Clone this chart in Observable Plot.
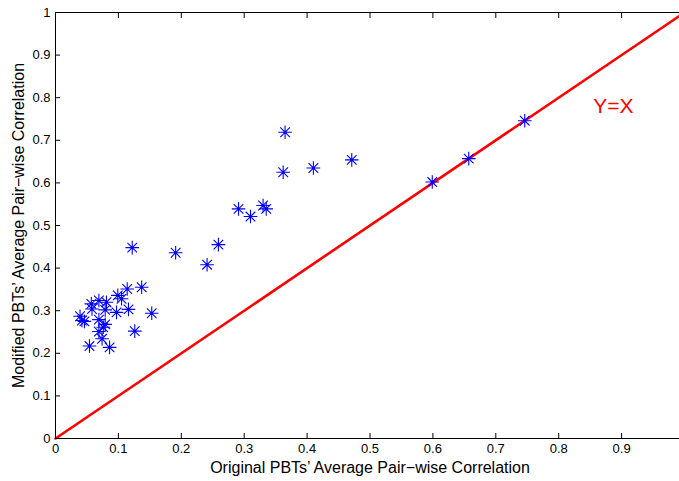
<!DOCTYPE html>
<html>
<head>
<meta charset="utf-8">
<script src="https://cdn.jsdelivr.net/npm/d3@7"></script>
<script src="https://cdn.jsdelivr.net/npm/@observablehq/plot@0.6"></script>
<style>
  html, body { margin: 0; padding: 0; background: #fff; overflow: hidden; }
  #chart svg { overflow: hidden !important; }
</style>
</head>
<body>
<div id="chart"></div>
<script>
// Data
const originalCorr = [0.746, 0.657, 0.599, 0.365, 0.362, 0.410, 0.471, 0.291, 0.310, 0.330,
  0.335, 0.259, 0.241, 0.191, 0.122, 0.137, 0.114, 0.099, 0.105, 0.153,
  0.116, 0.097, 0.126, 0.081, 0.069, 0.057, 0.058, 0.079, 0.039, 0.042,
  0.046, 0.069, 0.079, 0.076, 0.069, 0.074, 0.054, 0.086];
const modifiedCorr = [0.746, 0.657, 0.602, 0.719, 0.625, 0.635, 0.654, 0.539, 0.521, 0.547,
  0.539, 0.455, 0.408, 0.436, 0.448, 0.355, 0.351, 0.336, 0.328, 0.294,
  0.303, 0.296, 0.252, 0.320, 0.324, 0.316, 0.304, 0.302, 0.287, 0.277,
  0.275, 0.279, 0.268, 0.261, 0.251, 0.234, 0.217, 0.214];
const diagonal = [0, 1];
const xTicks = [0, 0.1, 0.2, 0.3, 0.4, 0.5, 0.6, 0.7, 0.8, 0.9];
const yTicks = [0, 0.1, 0.2, 0.3, 0.4, 0.5, 0.6, 0.7, 0.8, 0.9, 1];
const xLabel = "Original PBTs\u2019 Average Pair\u2212wise Correlation";
const yLabel = "Modified PBTs\u2019 Average Pair\u2212wise Correlation";
const lineLabel = ["Y=X"];
const lineLabelPos = {x: 0.855, y: 0.780};

const points = originalCorr.map((x, i) => ({x, y: modifiedCorr[i]}));
const diag = diagonal.map(v => ({x: v, y: v}));

// MATLAB-style 8-arm asterisk
const asterisk = {
  draw(context, size) {
    const r = Math.sqrt(size / Math.PI);
    const d = r * Math.SQRT1_2;
    context.moveTo(-r, 0); context.lineTo(r, 0);
    context.moveTo(0, -r); context.lineTo(0, r);
    context.moveTo(-d, -d); context.lineTo(d, d);
    context.moveTo(-d, d); context.lineTo(d, -d);
  }
};

const font = "'Liberation Sans', Arial, Helvetica, sans-serif";

const chart = Plot.plot({
  width: 679,
  height: 481,
  marginLeft: 55,
  marginRight: -5,
  marginTop: 12,
  marginBottom: 43,
  style: {fontFamily: font, fontSize: "13px", color: "#000", background: "#fff"},
  x: {domain: [0, 1]},
  y: {domain: [0, 1]},
  marks: [
    Plot.line(diag, {x: "x", y: "y", stroke: "#ff0000", strokeWidth: 2.6}),
    Plot.dot(points, {x: "x", y: "y", symbol: asterisk, r: 6.8, stroke: "#0000ff", strokeWidth: 1.1, fill: "none"}),
    Plot.text(lineLabel, {x: () => lineLabelPos.x, y: () => lineLabelPos.y, text: d => d, fill: "#ff0000", fontSize: 21, textAnchor: "start", lineAnchor: "middle"}),
    // frame lines
    Plot.ruleX([0], {stroke: "#000", strokeWidth: 1}),
    Plot.ruleY([0, 1], {stroke: "#000", strokeWidth: 1}),
    // inward ticks
    Plot.axisX(xTicks, {anchor: "bottom", tickSize: -5, text: null, label: null, stroke: "#000"}),
    Plot.axisX(xTicks, {anchor: "top", tickSize: -5, text: null, label: null, stroke: "#000"}),
    Plot.axisY(yTicks, {anchor: "left", tickSize: -5, text: null, label: null, stroke: "#000"}),
    // tick labels
    Plot.axisX(xTicks, {anchor: "bottom", tickSize: 0, tickPadding: 5, tickFormat: d => String(d), label: null, fill: "#000", fontSize: 13}),
    Plot.axisY(yTicks, {anchor: "left", tickSize: 0, tickPadding: 5, tickFormat: d => String(d), label: null, fill: "#000", fontSize: 13}),
    // axis titles
    Plot.text([xLabel], {frameAnchor: "bottom", dy: 29, text: d => d, fontSize: 16, fill: "#000", textAnchor: "middle", lineAnchor: "middle"}),
    Plot.text([yLabel], {frameAnchor: "left", dx: -37, rotate: -90, text: d => d, fontSize: 16, fill: "#000", textAnchor: "middle", lineAnchor: "middle"})
  ]
});
document.getElementById("chart").appendChild(chart);
</script>
</body>
</html>
